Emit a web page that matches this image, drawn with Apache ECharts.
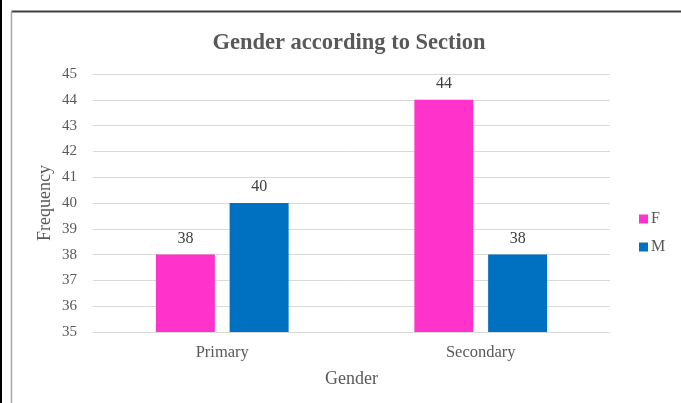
<!DOCTYPE html>
<html><head><meta charset="utf-8">
<script src="https://cdn.jsdelivr.net/npm/echarts@6/dist/echarts.min.js"></script>
<style>html,body{margin:0;padding:0;background:#fff}#c{width:681px;height:403px}</style>
</head><body><div id="c"></div>
<script>
const categories = ['Primary', 'Secondary'];
const seriesF = [38, 44];
const seriesM = [40, 38];
const yTicks = [35, 36, 37, 38, 39, 40, 41, 42, 43, 44, 45];

const font = '"Liberation Serif", "Times New Roman", serif';
const chart = echarts.init(document.getElementById('c'));
chart.setOption({
  animation: false,
  backgroundColor: '#fff',
  title: {
    text: 'Gender according to Section',
    left: 344, top: 27, textAlign: 'center',
    textStyle: { fontFamily: font, fontSize: 22.5, fontWeight: 'bold', color: '#595959' }
  },
  graphic: [
    { type: 'rect', shape: { x: 0, y: 0, width: 2, height: 403 }, style: { fill: '#000' } },
    { type: 'line', shape: { x1: 11.5, y1: 11.5, x2: 681, y2: 11.5 }, style: { stroke: '#404040', lineWidth: 2 } },
    { type: 'line', shape: { x1: 11.5, y1: 11.5, x2: 11.5, y2: 403 }, style: { stroke: '#a6a6a6', lineWidth: 1.5 } }
  ],
  legend: {
    orient: 'vertical', left: 634, top: 206, itemWidth: 9, itemHeight: 9, itemGap: 12,
    icon: 'rect',
    textStyle: { fontFamily: font, fontSize: 16, color: '#595959', padding: [0, 0, 0, -2] },
    data: ['F', 'M']
  },
  grid: { left: 93, right: 71, top: 74, bottom: 71 },
  xAxis: {
    type: 'category', data: categories,
    name: 'Gender', nameLocation: 'middle', nameGap: 38, nameMoveOverlap: false,
    nameTextStyle: { fontFamily: font, fontSize: 18, color: '#595959' },
    axisLine: { lineStyle: { color: '#d9d9d9' } },
    axisTick: { show: false },
    axisLabel: { fontFamily: font, fontSize: 16.5, color: '#595959', margin: 12 }
  },
  yAxis: {
    type: 'value', min: yTicks[0], max: yTicks[yTicks.length - 1], interval: 1,
    name: 'Frequency', nameLocation: 'middle', nameGap: 39, nameMoveOverlap: false,
    nameTextStyle: { fontFamily: font, fontSize: 18, color: '#595959' },
    axisLine: { show: false }, axisTick: { show: false },
    axisLabel: { fontFamily: font, fontSize: 15, color: '#595959', margin: 16 },
    splitLine: { lineStyle: { color: '#d9d9d9' } }
  },
  series: [
    { name: 'F', type: 'bar', data: seriesF, barWidth: 59, barGap: '25%',
      itemStyle: { color: '#FF33CC' },
      label: { show: true, position: 'top', distance: 8, fontFamily: font, fontSize: 16, color: '#404040' } },
    { name: 'M', type: 'bar', data: seriesM, barWidth: 59,
      itemStyle: { color: '#0070C0' },
      label: { show: true, position: 'top', distance: 8, fontFamily: font, fontSize: 16, color: '#404040' } }
  ]
});
</script></body></html>
